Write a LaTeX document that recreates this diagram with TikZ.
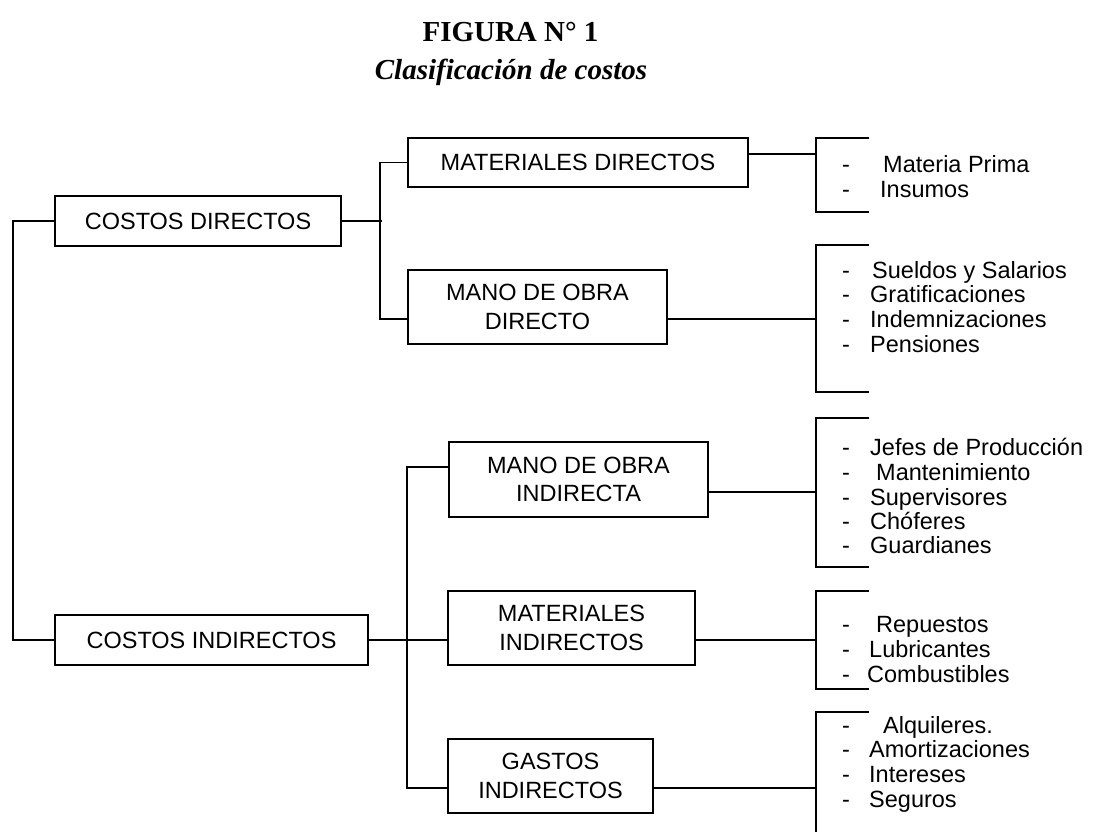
\documentclass[tikz,border=0pt]{standalone}
\usepackage{fontspec}
\setmainfont{Liberation Sans}
\newfontfamily\titlefont{Liberation Serif}
\newcommand\boxfont{\fontsize{23.5}{28.5}\selectfont}
\begin{document}
\begin{tikzpicture}[x=1pt,y=-1pt,
  box/.style={draw,line width=1.8pt,inner sep=0pt,align=center,font=\boxfont},
  item/.style={anchor=base west,inner sep=0pt,font=\boxfont},
  hyph/.style={anchor=base,inner sep=0pt,font=\boxfont},
  conn/.style={line width=1.8pt}]
\fill[white] (0,0) rectangle (1098,832);
\useasboundingbox (0,0) rectangle (1098,832);

% titles
\node[font=\titlefont\bfseries\fontsize{29}{30}\selectfont,anchor=base,inner sep=0pt] (title) at (510.5,42) {FIGURA N° 1};
\node[font=\titlefont\bfseries\itshape\fontsize{29}{30}\selectfont,anchor=base,inner sep=0pt] (sub) at (511,80) {Clasificación de costos};

% boxes
\node[box,minimum width=286pt,minimum height=50pt] (cd) at (198,221) {COSTOS DIRECTOS};
\node[box,minimum width=313pt,minimum height=50pt] (ci) at (211.5,640) {COSTOS INDIRECTOS};
\node[box,minimum width=340pt,minimum height=49pt] (md) at (578,162.5) {MATERIALES DIRECTOS};
\node[box,minimum width=259pt,minimum height=74pt] (mod) at (537.5,307) {MANO DE OBRA\\DIRECTO};
\node[box,minimum width=259pt,minimum height=75pt] (moi) at (578.5,479.5) {MANO DE OBRA\\INDIRECTA};
\node[box,minimum width=247pt,minimum height=74pt] (mi) at (571.5,628) {MATERIALES\\INDIRECTOS};
\node[box,minimum width=205pt,minimum height=74pt] (gi) at (550.5,776) {GASTOS\\INDIRECTOS};

% bracket junctions
\coordinate (b1) at (816,154);
\coordinate (b2) at (816,319);
\coordinate (b3) at (816,492);
\coordinate (b4) at (816,640);
\coordinate (b5) at (816,788);

% brackets
\draw[conn] (869,138) -| (816,212) -- (869,212);
\draw[conn] (869,245) -| (816,392) -- (869,392);
\draw[conn] (869,418) -| (816,567) -- (869,567);
\draw[conn] (869,591) -| (816,689) -- (869,689);
\draw[conn] (869,712) -| (816,832);

% connectors
\draw[conn] (cd.west) -- ++(-41,0) |- (ci.west);
\draw[conn] (cd.east) -- ++(40,0);
\draw[conn] (md.west) -- ++(-27,0) |- ([yshift=-12pt]mod.west);
\draw[conn] ([yshift=8.5pt]md.east) -- (b1);
\draw[conn] ([yshift=-12pt]mod.east) -- (b2);
\draw[conn] (ci.east) -- ([yshift=-12pt]mi.west);
\draw[conn] ([yshift=12.5pt]moi.west) -- ++(-41,0) |- ([yshift=-12pt]gi.west);
\draw[conn] ([yshift=-12.5pt]moi.east) -- (b3);
\draw[conn] ([yshift=-12pt]mi.east) -- (b4);
\draw[conn] ([yshift=-12pt]gi.east) -- (b5);

% list 1
\node[hyph] (d11) at (846,173) {-};
\node[item] (t11) at (883,173) {Materia Prima};
\node[hyph] (d12) at (846,197) {-};
\node[item] (t12) at (880,197) {Insumos};
% list 2
\node[hyph] (d21) at (846,278) {-};
\node[item] (t21) at (872,278) {Sueldos y Salarios};
\node[hyph] (d22) at (846,302) {-};
\node[item] (t22) at (870,302) {Gratificaciones};
\node[hyph] (d23) at (846,327) {-};
\node[item] (t23) at (870,327) {Indemnizaciones};
\node[hyph] (d24) at (846,352) {-};
\node[item] (t24) at (870,352) {Pensiones};
% list 3
\node[hyph] (d31) at (846,455) {-};
\node[item] (t31) at (870,455) {Jefes de Producción};
\node[hyph] (d32) at (846,480) {-};
\node[item] (t32) at (876,480) {Mantenimiento};
\node[hyph] (d33) at (846,505) {-};
\node[item] (t33) at (870,505) {Supervisores};
\node[hyph] (d34) at (846,529) {-};
\node[item] (t34) at (870,529) {Chóferes};
\node[hyph] (d35) at (846,553) {-};
\node[item] (t35) at (870,553) {Guardianes};
% list 4
\node[hyph] (d41) at (846,632) {-};
\node[item] (t41) at (876,632) {Repuestos};
\node[hyph] (d42) at (846,657) {-};
\node[item] (t42) at (869,657) {Lubricantes};
\node[hyph] (d43) at (846,682) {-};
\node[item] (t43) at (867,682) {Combustibles};
% list 5
\node[hyph] (d51) at (846,733) {-};
\node[item] (t51) at (883,733) {Alquileres.};
\node[hyph] (d52) at (846,757) {-};
\node[item] (t52) at (869,757) {Amortizaciones};
\node[hyph] (d53) at (846,782) {-};
\node[item] (t53) at (869,782) {Intereses};
\node[hyph] (d54) at (846,807) {-};
\node[item] (t54) at (869,807) {Seguros};
\end{tikzpicture}
\end{document}
